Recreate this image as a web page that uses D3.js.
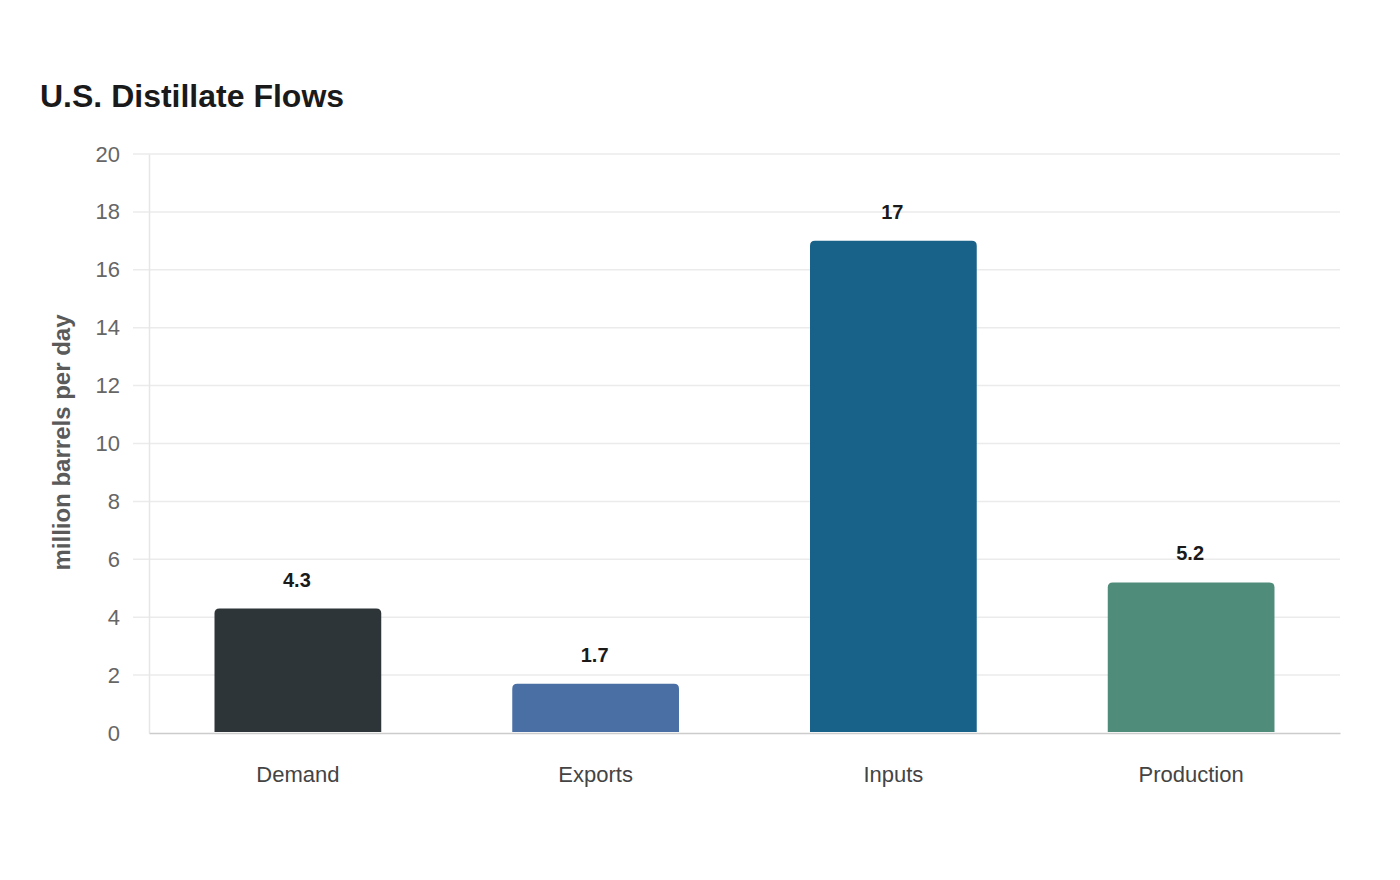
<!DOCTYPE html>
<html>
<head>
<meta charset="utf-8">
<script src="https://cdn.jsdelivr.net/npm/d3@7"></script>
<style>
  body { margin: 0; background: #fff; }
  text { font-family: "Liberation Sans", Arial, sans-serif; }
</style>
</head>
<body>
<div id="chart"></div>
<script>
// Data
const categories = ['Demand', 'Exports', 'Inputs', 'Production']
const values = [4.3, 1.7, 17, 5.2]
const valueLabels = ['4.3', '1.7', '17', '5.2']
const barColors = ['#2e3538', '#4a6fa5', '#186289', '#4f8c7a']
const yTicks = [0, 2, 4, 6, 8, 10, 12, 14, 16, 18, 20]

// Dimensions
let dimensions = {
  width: 1400,
  height: 880,
  left: 149,
  right: 1340,
  top: 154,
  bottom: 733,
}

const svg = d3.select('#chart')
  .append('svg')
  .attr('width', dimensions.width)
  .attr('height', dimensions.height)

// Scales
const x = d3.scaleBand()
  .domain(categories)
  .range([dimensions.left, dimensions.right])
  .paddingInner(0.44)
  .paddingOuter(0.22)

const y = d3.scaleLinear()
  .domain([0, 20])
  .range([dimensions.bottom, dimensions.top])

// Title
svg.append('text')
  .attr('x', 40)
  .attr('y', 107)
  .attr('font-size', 32)
  .attr('font-weight', 'bold')
  .attr('fill', '#1a1a1a')
  .text('U.S. Distillate Flows')

// Grid
svg.append('g')
  .selectAll('line')
  .data(yTicks.filter(d => d > 0))
  .join('line')
  .attr('x1', dimensions.left - 16)
  .attr('x2', dimensions.right)
  .attr('y1', d => y(d))
  .attr('y2', d => y(d))
  .attr('stroke', '#ebebeb')
  .attr('stroke-width', 1.5)

// Y axis
const yAxis = svg.append('g')
  .attr('transform', `translate(${dimensions.left},0)`)
  .call(d3.axisLeft(y).tickValues(yTicks).tickSize(0).tickPadding(29))
yAxis.select('.domain').attr('stroke', '#e6e6e6').attr('stroke-width', 1.5)
yAxis.selectAll('text')
  .attr('font-size', 22)
  .attr('fill', '#666')
  .style('font-family', '"Liberation Sans", Arial, sans-serif')

svg.append('text')
  .attr('transform', `translate(70, ${(dimensions.top + dimensions.bottom) / 2 - 1}) rotate(-90)`)
  .attr('text-anchor', 'middle')
  .attr('font-size', 24)
  .attr('font-weight', 'bold')
  .attr('fill', '#5a5a5a')
  .text('million barrels per day')

// Bars
const rows = categories.map((c, i) => ({ name: c, value: values[i], label: valueLabels[i], color: barColors[i] }))

function barPath(d) {
  const x0 = x(d.name), w = x.bandwidth()
  const y0 = y(d.value), y1 = y(0) - 1
  const r = 5
  return `M${x0},${y1}V${y0 + r}Q${x0},${y0} ${x0 + r},${y0}H${x0 + w - r}Q${x0 + w},${y0} ${x0 + w},${y0 + r}V${y1}Z`
}

svg.append('g')
  .selectAll('path')
  .data(rows)
  .join('path')
  .attr('d', barPath)
  .attr('fill', d => d.color)

// Value labels
svg.append('g')
  .selectAll('text')
  .data(rows)
  .join('text')
  .attr('x', d => x(d.name) + x.bandwidth() / 2 - 1)
  .attr('y', d => y(d.value) - 22)
  .attr('text-anchor', 'middle')
  .attr('font-size', 20)
  .attr('font-weight', 'bold')
  .attr('fill', '#1a1a1a')
  .text(d => d.label)

// X axis
const xAxis = svg.append('g')
  .attr('transform', `translate(0,${dimensions.bottom})`)
  .call(d3.axisBottom(x).tickSize(0).tickPadding(33))
xAxis.select('.domain').attr('stroke', '#cccccc').attr('stroke-width', 1.5)
xAxis.selectAll('text')
  .attr('font-size', 22)
  .attr('fill', '#444')
  .style('font-family', '"Liberation Sans", Arial, sans-serif')
</script>
</body>
</html>
